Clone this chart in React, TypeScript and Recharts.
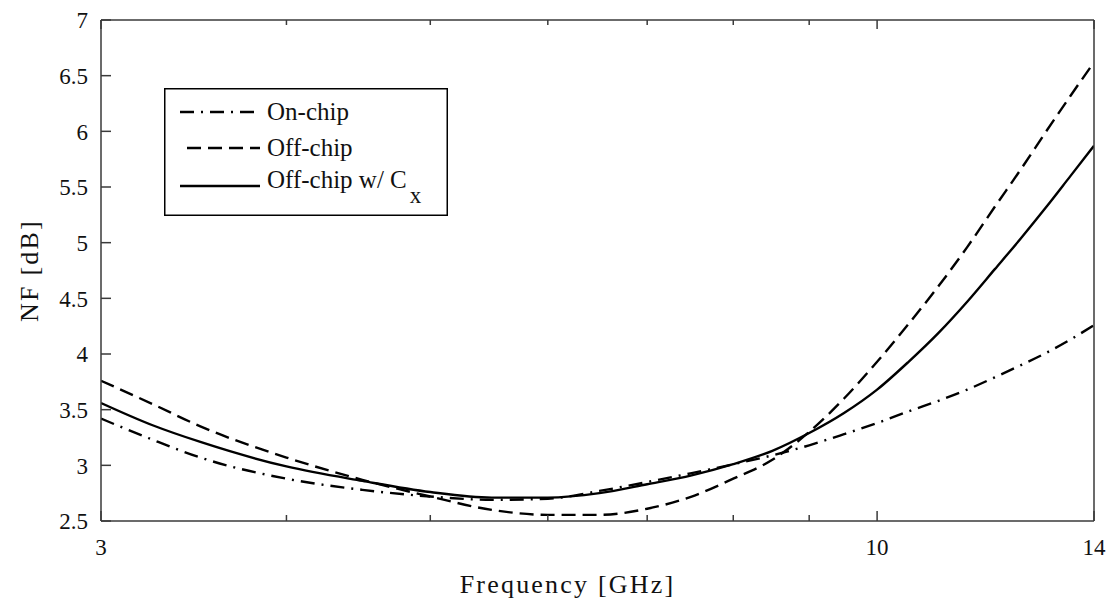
import React from "react";
import { Legend, Line, LineChart, XAxis, YAxis } from "recharts";

// frequency samples (GHz) and NF readings (dB) taken off the plot
const freqGHz = [3, 3.25, 3.5, 4, 4.5, 5, 5.5, 6, 6.5, 7, 7.5, 8, 8.5, 9, 9.5, 10, 10.5, 11, 11.5, 12, 12.5, 13, 13.5, 14];
const onChip = [3.42, 3.23, 3.07, 2.88, 2.78, 2.72, 2.69, 2.7, 2.77, 2.85, 2.93, 3.01, 3.09, 3.18, 3.28, 3.38, 3.485, 3.58, 3.68, 3.79, 3.9, 4.01, 4.13, 4.26];
const offChip = [3.76, 3.55, 3.35, 3.07, 2.87, 2.72, 2.6, 2.555, 2.555, 2.61, 2.72, 2.88, 3.05, 3.3, 3.6, 3.93, 4.27, 4.61, 4.96, 5.32, 5.66, 6.0, 6.32, 6.62];
const offChipCx = [3.56, 3.36, 3.21, 2.99, 2.86, 2.76, 2.71, 2.71, 2.75, 2.83, 2.91, 3.01, 3.13, 3.29, 3.47, 3.68, 3.93, 4.19, 4.47, 4.76, 5.04, 5.32, 5.6, 5.87];

const xTicks = [3, 4, 5, 6, 7, 8, 9, 10, 14];
const xMajor = [3, 10, 14];
const yTicks = [2.5, 3, 3.5, 4, 4.5, 5, 5.5, 6, 6.5, 7];

const series = [
  { key: "onChip", name: "On-chip", dash: "14 7 2 7", sub: "" },
  { key: "offChip", name: "Off-chip", dash: "14 7", sub: "" },
  { key: "offChipCx", name: "Off-chip w/ C", dash: undefined, sub: "x" },
];

const data = freqGHz.map((f, i) => ({
  f,
  onChip: onChip[i],
  offChip: offChip[i],
  offChipCx: offChipCx[i],
}));

const FONT = "Liberation Serif, DejaVu Serif, Times New Roman, serif";
const AXIS = "#3a3a3a";
const INK = "#111";

function BottomTick(props: any) {
  const { x, y, payload } = props;
  const major = xMajor.includes(payload.value);
  return (
    <g>
      <line x1={x} y1={y} x2={x} y2={y - (major ? 10 : 6)} stroke={AXIS} strokeWidth={1.5} />
      {major && (
        <text x={x} y={y + 34} textAnchor="middle" style={{ fontFamily: FONT }} fontSize={23} fill={INK}>
          {payload.value}
        </text>
      )}
    </g>
  );
}

function TopTick(props: any) {
  const { x, y, payload } = props;
  const major = xMajor.includes(payload.value);
  return <line x1={x} y1={y} x2={x} y2={y + (major ? 9 : 5)} stroke={AXIS} strokeWidth={1.5} />;
}

function LeftTick(props: any) {
  const { x, y, payload } = props;
  return (
    <g>
      <line x1={x} y1={y} x2={x + 10} y2={y} stroke={AXIS} strokeWidth={1.5} />
      <text x={x - 13} y={y} dy={8.2} textAnchor="end" style={{ fontFamily: FONT }} fontSize={23} fill={INK}>
        {payload.value}
      </text>
    </g>
  );
}

function RightTick(props: any) {
  const { x, y } = props;
  return <line x1={x} y1={y} x2={x - 10} y2={y} stroke={AXIS} strokeWidth={1.5} />;
}

const lineY = [24, 60, 98];
const textY = [32, 68, 100];

function NfLegend() {
  return (
    <svg width={284} height={128} style={{ display: "block" }}>
      <rect x={0.75} y={0.75} width={282.5} height={126.5} fill="#fff" stroke="#000" strokeWidth={1.5} />
      {series.map((s, i) => (
        <g key={s.key}>
          <line
            x1={s.dash === "14 7" ? 23 : 16}
            x2={96}
            y1={lineY[i]}
            y2={lineY[i]}
            stroke="#000"
            strokeWidth={2.5}
            strokeDasharray={s.dash}
          />
          <text x={103} y={textY[i]} style={{ fontFamily: FONT }} fontSize={25} fill={INK}>
            {s.name}
            {s.sub && (
              <tspan dx={3} dy={15} fontSize={23}>
                {s.sub}
              </tspan>
            )}
          </text>
        </g>
      ))}
    </svg>
  );
}

export default function App() {
  return (
    <div style={{ position: "absolute", left: 0, top: 0, background: "#fff", fontFamily: FONT }}>
      <LineChart width={1110} height={605} data={data} margin={{ top: 19, right: 15, left: 21, bottom: 34 }}>
        <XAxis
          dataKey="f"
          type="number"
          scale="log"
          domain={[3, 14]}
          allowDataOverflow
          ticks={xTicks}
          interval={0}
          height={50}
          tickSize={0}
          tickMargin={0}
          tick={<BottomTick />}
          axisLine={{ stroke: AXIS, strokeWidth: 1.5 }}
          label={{
            value: "Frequency [GHz]",
            position: "bottom",
            offset: 4,
            dx: -30,
            style: { fontFamily: FONT, fontSize: 26, fill: INK, letterSpacing: 2.2 },
          }}
        />
        <XAxis
          xAxisId="top"
          orientation="top"
          dataKey="f"
          type="number"
          scale="log"
          domain={[3, 14]}
          allowDataOverflow
          ticks={xTicks}
          interval={0}
          height={1}
          tickSize={0}
          tickMargin={0}
          tick={<TopTick />}
          axisLine={{ stroke: AXIS, strokeWidth: 1.5 }}
        />
        <YAxis
          type="number"
          domain={[2.5, 7]}
          ticks={yTicks}
          interval={0}
          width={80}
          tickSize={0}
          tickMargin={0}
          tick={<LeftTick />}
          axisLine={{ stroke: AXIS, strokeWidth: 1.5 }}
          label={{
            content: (p: any) => {
              const vb = p.viewBox;
              const cx = 38;
              const cy = vb.y + vb.height / 2;
              return (
                <text
                  x={cx}
                  y={cy}
                  transform={`rotate(-90 ${cx} ${cy})`}
                  textAnchor="middle"
                  style={{ fontFamily: FONT, letterSpacing: 2.2 }}
                  fontSize={26}
                  fill={INK}
                >
                  NF [dB]
                </text>
              );
            },
          }}
        />
        <YAxis
          yAxisId="right"
          orientation="right"
          type="number"
          domain={[2.5, 7]}
          ticks={yTicks}
          interval={0}
          width={1}
          tickSize={0}
          tickMargin={0}
          tick={<RightTick />}
          axisLine={{ stroke: AXIS, strokeWidth: 1.5 }}
        />
        <Legend
          layout="horizontal"
          verticalAlign="middle"
          align="center"
          content={<NfLegend />}
          wrapperStyle={{ left: 164, top: 88, width: 284, height: 128 }}
        />
        {series.map((s) => (
          <Line
            key={s.key}
            dataKey={s.key}
            name={s.name}
            type="monotone"
            stroke="#000"
            strokeWidth={2.4}
            strokeDasharray={s.dash}
            dot={false}
            activeDot={false}
            isAnimationActive={false}
          />
        ))}
      </LineChart>
    </div>
  );
}
